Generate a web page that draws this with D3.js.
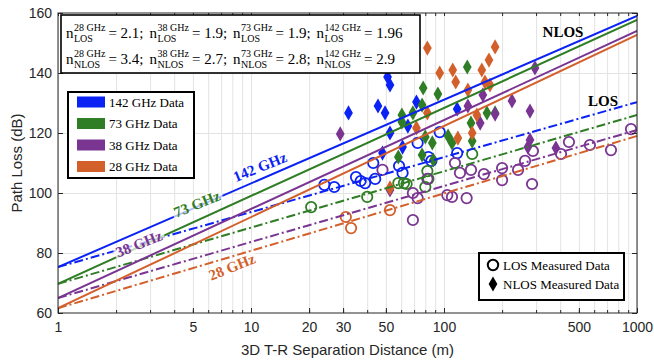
<!DOCTYPE html>
<html>
<head>
<meta charset="utf-8">
<script src="https://cdn.jsdelivr.net/npm/d3@7"></script>
<style>
    body { margin: 0; background: #fff; }
    .axis text { font-family: "Liberation Sans", Arial, sans-serif; font-size: 14px; fill: #262626; }
    .axis path { display: none; }
    .axis line { stroke: #262626; }
    .grid line { stroke: #e3e3e3; stroke-width: 1; }
    .grid path { display: none; }
    .serif { font-family: "Liberation Serif", "DejaVu Serif", serif; }
</style>
</head>
<body>
<svg id="chart" width="654" height="360"></svg>
<script>
// bands, drawn in legend order
var bands = ["142 GHz", "73 GHz", "38 GHz", "28 GHz"];
var bandColors = ["#0b22f5", "#2f7d24", "#7a3592", "#d3602b"];

// fitted lines (path loss at 1 m and at 1000 m)
var plAt1m = [75.3, 69.7, 65.0, 61.6];
var losPlAt1000m = [130.3, 126.0, 121.0, 119.0];
var nlosPlAt1000m = [159.0, 157.7, 154.0, 152.7];

// PLE values quoted in the box, order 28, 38, 73, 142 GHz
var pleBands = ["28 GHz", "38 GHz", "73 GHz", "142 GHz"];
var pleLos = ["2.1", "1.9", "1.9", "1.96"];
var pleNlos = ["3.4", "2.7", "2.8", "2.9"];

var xTickValues = [1, 5, 10, 20, 30, 50, 100, 500, 1000];
var yTickValues = [60, 80, 100, 120, 140, 160];

// measured data: [distance (m), path loss (dB)]
var los142 = [[24, 102.7], [27, 102], [35, 105.3], [37, 104], [39, 103.3], [44, 104.7], [43, 110],
    [58.5, 109], [61, 106.7], [73, 116.7], [83, 112], [86, 110.7], [95, 120.3], [117, 113.3]];
var nlos142 = [[32, 126.7], [51, 138.7], [52.5, 136], [45.5, 129], [49.5, 126.7], [52.5, 120],
    [48, 113.3], [61, 115.3], [65, 122.3], [72, 130.3], [117, 128]];

var los73 = [[20.5, 95.3], [40, 98.7], [58, 103.3], [62, 103.3], [64, 103], [82, 107.3],
    [83, 104.7], [80, 102], [140, 113]];
var nlos73 = [[60.5, 126], [60.5, 123.7], [69, 126.7], [78, 135], [93, 133], [132, 142], [80, 118.7],
    [87, 116.7], [105, 119], [110, 116.7], [138, 123.3], [140, 117.3], [167, 126.7], [184, 126.7],
    [58, 112], [77, 112.7], [77, 129.3], [88, 111]];

var los38 = [[48, 107.7], [82, 104.7], [69, 100], [73, 98.3], [69, 91], [104, 99.3], [110, 98.7],
    [131, 98.3], [114, 110], [121, 106.7], [138, 107.7], [161, 106.3], [200, 108.3], [200, 104.3],
    [242, 107.7], [263, 110.7], [289, 114], [286, 103], [404, 113], [444, 117], [570, 116],
    [733, 114.3], [931, 121.3]];
var nlos38 = [[29, 119.7], [52.5, 101], [133, 129], [154, 123.3], [184, 126.3], [225, 130.7],
    [279, 127.3], [279, 117.7], [272, 115.3], [380, 115], [296, 141.7], [159, 132.7]];

var los28 = [[31, 92], [33, 88.3], [52.5, 94.3]];
var nlos28 = [[82, 148.3], [95, 140], [111, 141], [115, 137], [133, 134.3], [157, 141], [171, 144.3],
    [184, 148.7], [163, 137], [173, 136], [82, 126.7], [72, 121.7], [118, 118.3], [148, 126],
    [140, 120], [52.5, 101.7]];

var losData = [los142, los73, los38, los28];
var nlosData = [nlos142, nlos73, nlos38, nlos28];

var svg = d3.select("#chart");
var margin = { top: 13, right: 17, bottom: 47, left: 58 };
var width = +svg.attr("width") - margin.left - margin.right;
var height = +svg.attr("height") - margin.top - margin.bottom;

var xScale = d3.scaleLog().domain([1, 1000]).range([0, width]);
var yScale = d3.scaleLinear().domain([60, 160]).range([height, 0]);

var g = svg.append("g")
    .attr("transform", "translate(" + margin.left + "," + margin.top + ")");

g.append("clipPath").attr("id", "plotClip")
    .append("rect").attr("width", width).attr("height", height);

var minorTicks = [];
[1, 10, 100].forEach(function (decade) {
    for (var k = 1; k < 10; k++) { minorTicks.push(decade * k); }
});
minorTicks.push(1000);

// grid
g.append("g").attr("class", "grid")
    .attr("transform", "translate(0," + height + ")")
    .call(d3.axisBottom(xScale).tickValues(minorTicks).tickSize(-height).tickFormat(""));
g.append("g").attr("class", "grid")
    .call(d3.axisLeft(yScale).tickValues(yTickValues.slice(1, -1)).tickSize(-width).tickFormat(""));

// measured data
var plot = g.append("g").attr("clip-path", "url(#plotClip)");
var diamond = d3.symbol().type(d3.symbolDiamond).size(66);

bands.forEach(function (band, i) {
    plot.selectAll(".nlos" + i)
        .data(nlosData[i])
        .enter().append("path")
        .attr("class", "nlos" + i)
        .attr("transform", function (d) { return "translate(" + xScale(d[0]) + "," + yScale(d[1]) + ")"; })
        .attr("d", diamond)
        .attr("fill", bandColors[i]);

    plot.selectAll(".los" + i)
        .data(losData[i])
        .enter().append("circle")
        .attr("class", "los" + i)
        .attr("cx", function (d) { return xScale(d[0]); })
        .attr("cy", function (d) { return yScale(d[1]); })
        .attr("r", 5.2)
        .attr("fill", "none")
        .attr("stroke", bandColors[i])
        .attr("stroke-width", 1.8);
});

// fitted lines
var fitLine = d3.line()
    .x(function (d) { return xScale(d[0]); })
    .y(function (d) { return yScale(d[1]); });

bands.forEach(function (band, i) {
    plot.append("path")
        .datum([[1, plAt1m[i]], [1000, nlosPlAt1000m[i]]])
        .attr("d", fitLine)
        .attr("fill", "none")
        .attr("stroke", bandColors[i])
        .attr("stroke-width", 2);
    plot.append("path")
        .datum([[1, plAt1m[i]], [1000, losPlAt1000m[i]]])
        .attr("d", fitLine)
        .attr("fill", "none")
        .attr("stroke", bandColors[i])
        .attr("stroke-width", 2)
        .attr("stroke-dasharray", "9,3,2,3");
});

// band labels along the lines
var bandLabelPos = [[260, 167], [197, 204], [139, 244], [232, 267]];
bands.forEach(function (band, i) {
    var lbl = g.append("g")
        .attr("transform", "translate(" + (bandLabelPos[i][0] - margin.left) + "," + (bandLabelPos[i][1] - margin.top) + ") rotate(-22)");
    var t = lbl.append("text")
        .attr("class", "serif")
        .attr("text-anchor", "middle")
        .attr("y", 5)
        .attr("font-size", 15)
        .attr("font-weight", "bold")
        .attr("fill", bandColors[i])
        .text(band);
    var bb = t.node().getBBox();
    lbl.insert("rect", "text")
        .attr("x", bb.x - 2).attr("y", bb.y + 1)
        .attr("width", bb.width + 4).attr("height", bb.height - 2)
        .attr("fill", "#fff").attr("fill-opacity", 0.7);
});

g.append("text").attr("class", "serif")
    .attr("x", 563 - margin.left).attr("y", 37 - margin.top)
    .attr("text-anchor", "middle").attr("font-size", 15).attr("font-weight", "bold")
    .text("NLOS");
g.append("text").attr("class", "serif")
    .attr("x", 603 - margin.left).attr("y", 106 - margin.top)
    .attr("text-anchor", "middle").attr("font-size", 15).attr("font-weight", "bold")
    .text("LOS");

// axes, ticks pointing inward on all four sides
g.append("g").attr("class", "axis")
    .attr("transform", "translate(0," + height + ")")
    .call(d3.axisBottom(xScale).tickValues(minorTicks).tickSizeInner(-3).tickSizeOuter(0).tickFormat(""));
g.append("g").attr("class", "axis")
    .attr("transform", "translate(0," + height + ")")
    .call(d3.axisBottom(xScale).tickValues(xTickValues).tickSizeInner(-5).tickSizeOuter(0)
        .tickPadding(9).tickFormat(d3.format("d")));
g.append("g").attr("class", "axis")
    .call(d3.axisTop(xScale).tickValues(minorTicks).tickSizeInner(-3).tickSizeOuter(0).tickFormat(""));
g.append("g").attr("class", "axis")
    .call(d3.axisLeft(yScale).tickValues(yTickValues).tickSizeInner(-5).tickSizeOuter(0).tickPadding(6));
g.append("g").attr("class", "axis")
    .attr("transform", "translate(" + width + ",0)")
    .call(d3.axisRight(yScale).tickValues(yTickValues).tickSizeInner(-5).tickSizeOuter(0).tickFormat(""));

g.append("rect")
    .attr("width", width).attr("height", height)
    .attr("fill", "none").attr("stroke", "#262626").attr("stroke-width", 1);

g.append("text")
    .attr("x", width / 2).attr("y", height + 42)
    .attr("text-anchor", "middle")
    .style("font-family", "'Liberation Sans', Arial, sans-serif").style("font-size", "15px").style("fill", "#262626")
    .text("3D T-R Separation Distance (m)");
g.append("text")
    .attr("transform", "translate(-36," + (height / 2) + ") rotate(-90)")
    .attr("text-anchor", "middle")
    .style("font-family", "'Liberation Sans', Arial, sans-serif").style("font-size", "15px").style("fill", "#262626")
    .text("Path Loss (dB)");

// PLE box
var pleBox = svg.append("g");
pleBox.append("rect")
    .attr("x", 61).attr("y", 15).attr("width", 359).attr("height", 58)
    .attr("fill", "#fff").attr("stroke", "#000").attr("stroke-width", 1.6);

function pleLine(y, sub, values) {
    var x = 66;
    pleBands.forEach(function (b, i) {
        var n = pleBox.append("text").attr("class", "serif").attr("x", x).attr("y", y)
            .attr("font-size", 15).text("n");
        x += n.node().getComputedTextLength() + 0.5;
        var sp = pleBox.append("text").attr("class", "serif").attr("x", x).attr("y", y - 7)
            .attr("font-size", 10).text(b);
        var sb = pleBox.append("text").attr("class", "serif").attr("x", x).attr("y", y + 4)
            .attr("font-size", 10).text(sub);
        x += Math.max(sp.node().getComputedTextLength(), sb.node().getComputedTextLength()) + 3;
        var rest = "= " + values[i] + (i < pleBands.length - 1 ? ";" : "");
        var r = pleBox.append("text").attr("class", "serif").attr("x", x).attr("y", y)
            .attr("font-size", 15).text(rest);
        x += r.node().getComputedTextLength() + 6;
    });
}
pleLine(38, "LOS", pleLos);
pleLine(64, "NLOS", pleNlos);

// band legend
var legend1 = svg.append("g");
legend1.append("rect")
    .attr("x", 68).attr("y", 92).attr("width", 126).attr("height", 86)
    .attr("fill", "#fff").attr("stroke", "#000").attr("stroke-width", 2);
bands.forEach(function (band, i) {
    var cy = 102 + i * 21.5;
    legend1.append("rect")
        .attr("x", 77).attr("y", cy - 5.5).attr("width", 28).attr("height", 11)
        .attr("fill", bandColors[i]);
    legend1.append("text").attr("class", "serif")
        .attr("x", 109).attr("y", cy + 4.5).attr("font-size", 13)
        .text(band + " Data");
});

// marker legend
var legend2 = svg.append("g");
legend2.append("rect")
    .attr("x", 479).attr("y", 253).attr("width", 145).attr("height", 47)
    .attr("fill", "#fff").attr("stroke", "#000").attr("stroke-width", 2);
legend2.append("circle")
    .attr("cx", 493).attr("cy", 265).attr("r", 5.2)
    .attr("fill", "none").attr("stroke", "#000").attr("stroke-width", 2);
legend2.append("path")
    .attr("transform", "translate(493,284)")
    .attr("d", diamond).attr("fill", "#000");
legend2.append("text").attr("class", "serif")
    .attr("x", 503).attr("y", 269.5).attr("font-size", 13).text("LOS Measured Data");
legend2.append("text").attr("class", "serif")
    .attr("x", 503).attr("y", 288.5).attr("font-size", 13).text("NLOS Measured Data");
</script>
</body>
</html>
